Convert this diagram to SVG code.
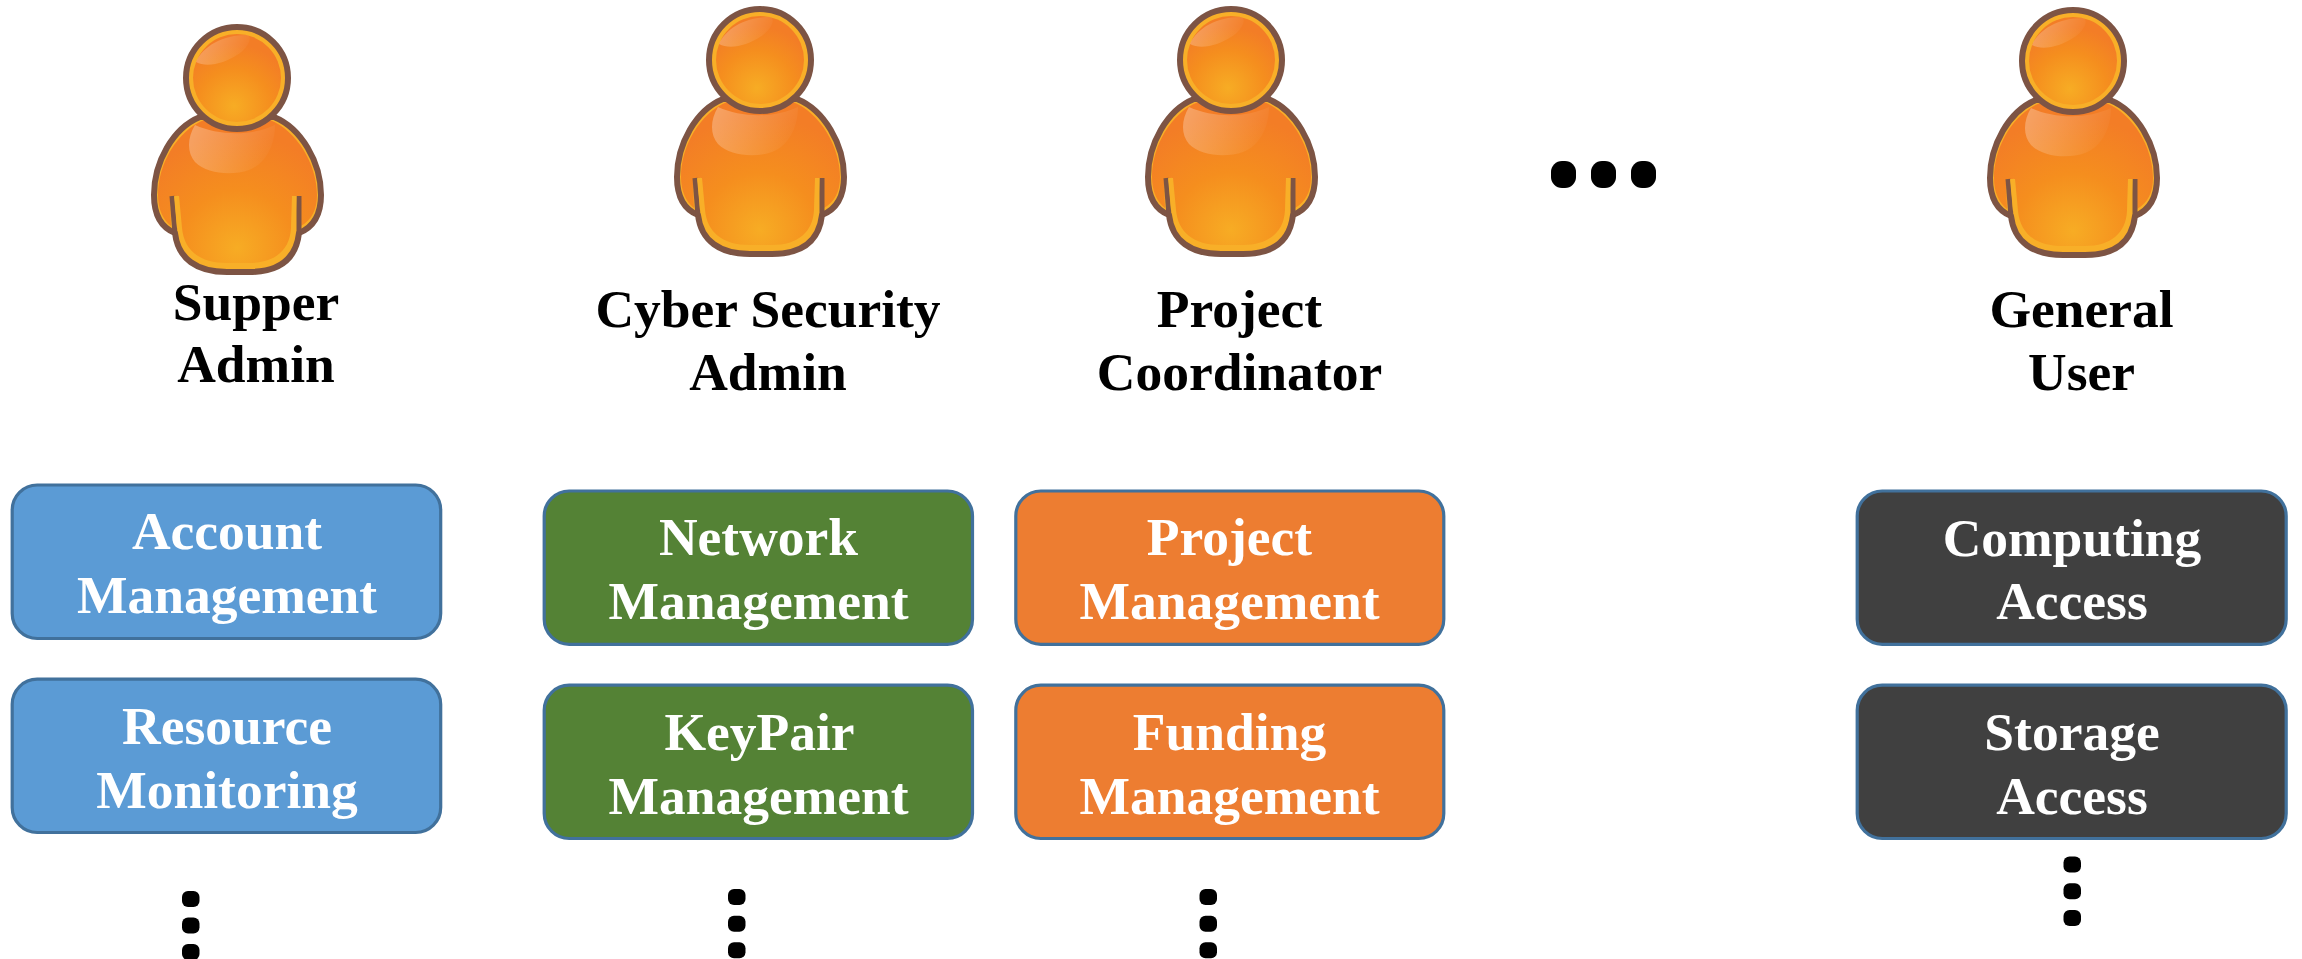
<svg xmlns="http://www.w3.org/2000/svg" width="2302" height="959" viewBox="0 0 2302 959">
<style>
text{font-family:"Liberation Serif","Times New Roman",serif;font-weight:bold;text-anchor:middle;font-size:53.5px}
.label{fill:#000}
.inbox{fill:#fff}
.box{stroke-width:3.2;stroke:#41719C}
.blue{fill:#5B9BD5}
.green{fill:#548235}
.orange{fill:#ED7D31}
.dark{fill:#404040}
.dot{fill:#000}
</style>
<defs>
<radialGradient id="bodyFill" gradientUnits="userSpaceOnUse" cx="0" cy="170" r="115">
<stop offset="0" stop-color="#F7AC24"/><stop offset="0.5" stop-color="#F58E1E"/><stop offset="1" stop-color="#F37D26"/>
</radialGradient>
<radialGradient id="headFill" gradientUnits="userSpaceOnUse" cx="-3" cy="28" r="62">
<stop offset="0" stop-color="#F7AC24"/><stop offset="0.6" stop-color="#F58E1E"/><stop offset="1" stop-color="#F37D26"/>
</radialGradient>
<linearGradient id="shine" x1="0" y1="0" x2="1" y2="0.25">
<stop offset="0" stop-color="#fff" stop-opacity="0.3"/><stop offset="1" stop-color="#fff" stop-opacity="0.03"/>
</linearGradient>
<symbol id="person" overflow="visible">
<path d="M-37,39 C-64,50 -83,84 -83,117 C-83,135 -77,149 -62,155 C-59,181 -40,194 -10,194 L12,194 C42,194 59,181 62,155 C77,149 84,135 84,117 C84,84 64,50 37,39 Z" fill="#F8AF28" stroke="#7D5444" stroke-width="6" stroke-linejoin="round"/>
<path d="M-33,42 C-60,53 -79,86 -79,117 C-79,131 -74,142 -66,148 L-67,118 L-58,118 L-55,150 C-53,172 -38,185 -10,185 L12,185 C38,185 53,172 54,150 L55,118 L64,118 L64,148 C75,142 80,131 80,117 C80,86 60,53 33,42 Z" fill="url(#bodyFill)"/>
<path d="M-42,47 C-50,60 -50,75 -42,84 C-30,96 -5,98 12,92 C28,86 38,68 38,47 C15,58 -18,58 -42,47 Z" fill="url(#shine)"/>
<path d="M-65,118 L-62,156" fill="none" stroke="#7D5444" stroke-width="5"/>
<path d="M62,118 L62,156" fill="none" stroke="#7D5444" stroke-width="5"/>
<path d="M-61,118 L-58,150" fill="none" stroke="#F8AF28" stroke-width="4"/>
<path d="M57.500,118 L56.500,150" fill="none" stroke="#F8AF28" stroke-width="4"/>
<circle cx="0" cy="0" r="51" fill="#F8AF28" stroke="#7D5444" stroke-width="6"/>
<circle cx="0" cy="0" r="44" fill="url(#headFill)"/>
<path d="M-41,-16 C-34,-32 -14,-43 10,-43 C16,-42 12,-30 0,-23 C-12,-15 -30,-10 -41,-16 Z" fill="url(#shine)"/>
</symbol>
</defs>
<g id="connectors"></g>
<g id="person-supper-admin"><use href="#person" x="237" y="78"/><text class="label" x="256" y="320">Supper</text><text class="label" x="256" y="382">Admin</text></g>
<g id="person-cyber-security-admin"><use href="#person" x="760" y="60"/><text class="label" x="768" y="327">Cyber Security</text><text class="label" x="768" y="390">Admin</text></g>
<g id="person-project-coordinator"><use href="#person" x="1231" y="60"/><text class="label" x="1239.500" y="327">Project</text><text class="label" x="1239.500" y="390">Coordinator</text></g>
<g id="person-general-user"><use href="#person" x="2073" y="61"/><text class="label" x="2081.500" y="327">General</text><text class="label" x="2081.500" y="390">User</text></g>
<g id="ellipsis-top"><rect class="dot" x="1551" y="161" width="25" height="27" rx="11"/><rect class="dot" x="1591" y="161" width="25" height="27" rx="11"/><rect class="dot" x="1631" y="161" width="25" height="27" rx="11"/></g>
<g id="box-account"><rect class="box blue" x="12.200" y="485" width="428.500" height="153.500" rx="25"/><text class="inbox" x="227" y="549">Account</text><text class="inbox" x="227" y="613">Management</text></g>
<g id="box-resource"><rect class="box blue" x="12.200" y="679.200" width="428.500" height="153.300" rx="25"/><text class="inbox" x="227" y="744">Resource</text><text class="inbox" x="227" y="808">Monitoring</text></g>
<g id="dots-1"><rect class="dot" x="182" y="891" width="17.500" height="16" rx="6"/><rect class="dot" x="182" y="917.500" width="17.500" height="16" rx="6"/><rect class="dot" x="182" y="944" width="17.500" height="16" rx="6"/></g>
<g id="box-network"><rect class="box green" x="544.200" y="491" width="428.300" height="153.300" rx="25"/><text class="inbox" x="758.500" y="555">Network</text><text class="inbox" x="758.500" y="619">Management</text></g>
<g id="box-keypair"><rect class="box green" x="544.200" y="685.200" width="428.300" height="153.300" rx="25"/><text class="inbox" x="759.500" y="750">KeyPair</text><text class="inbox" x="758.500" y="814">Management</text></g>
<g id="dots-2"><rect class="dot" x="728" y="889" width="17.500" height="16" rx="6"/><rect class="dot" x="728" y="915.700" width="17.500" height="16" rx="6"/><rect class="dot" x="728" y="942.300" width="17.500" height="16" rx="6"/></g>
<g id="box-project"><rect class="box orange" x="1015.800" y="491" width="428" height="153.300" rx="25"/><text class="inbox" x="1229.500" y="555">Project</text><text class="inbox" x="1229.500" y="619">Management</text></g>
<g id="box-funding"><rect class="box orange" x="1015.800" y="685.200" width="428" height="153.300" rx="25"/><text class="inbox" x="1229.500" y="750">Funding</text><text class="inbox" x="1229.500" y="814">Management</text></g>
<g id="dots-3"><rect class="dot" x="1199.500" y="889" width="17.500" height="16" rx="6"/><rect class="dot" x="1199.500" y="915.700" width="17.500" height="16" rx="6"/><rect class="dot" x="1199.500" y="942.300" width="17.500" height="16" rx="6"/></g>
<g id="box-computing"><rect class="box dark" x="1857.200" y="491" width="429" height="153.300" rx="25"/><text class="inbox" x="2072" y="555.500">Computing</text><text class="inbox" x="2072" y="619">Access</text></g>
<g id="box-storage"><rect class="box dark" x="1857.200" y="685.200" width="429" height="153.300" rx="25"/><text class="inbox" x="2072" y="750">Storage</text><text class="inbox" x="2072" y="814">Access</text></g>
<g id="dots-4"><rect class="dot" x="2063.500" y="856.500" width="17.500" height="16" rx="6"/><rect class="dot" x="2063.500" y="883.200" width="17.500" height="16" rx="6"/><rect class="dot" x="2063.500" y="910" width="17.500" height="16" rx="6"/></g>
</svg>
